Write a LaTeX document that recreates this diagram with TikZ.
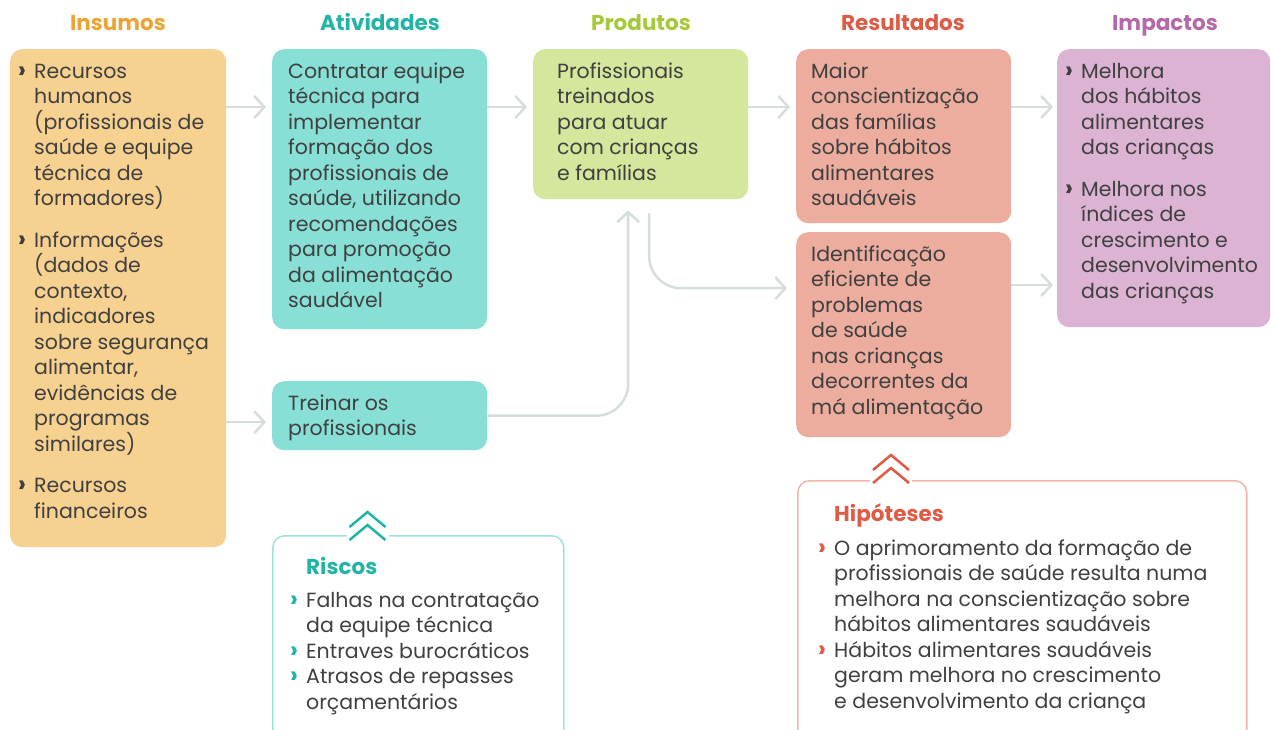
\documentclass[tikz,border=0pt]{standalone}
\usepackage{fontspec}
\setmainfont{Poppins}
\usepackage{xcolor}
\definecolor{ColTxt}{RGB}{64,64,64}
\definecolor{ColEdge}{RGB}{213,222,220}
\definecolor{ColIns}{RGB}{247,209,144}
\definecolor{ColInsH}{RGB}{234,164,56}
\definecolor{ColAtv}{RGB}{135,223,214}
\definecolor{ColAtvH}{RGB}{34,181,165}
\definecolor{ColPro}{RGB}{212,231,156}
\definecolor{ColProH}{RGB}{166,201,58}
\definecolor{ColRes}{RGB}{236,172,158}
\definecolor{ColResH}{RGB}{222,91,69}
\definecolor{ColImp}{RGB}{220,179,211}
\definecolor{ColImpH}{RGB}{182,104,167}
\definecolor{ColRis}{RGB}{160,226,219}
\definecolor{ColHip}{RGB}{243,181,168}
\usepackage{tikz}
\usetikzlibrary{arrows.meta}
\usetikzlibrary{calc}
\usetikzlibrary{positioning}
\tikzstyle{Box}=[rectangle,rounded corners=12pt,inner sep=0pt,
anchor=north west]
\tikzstyle{Txt}=[inner sep=0pt,anchor=north west,align=left,text=ColTxt,
font=\fontsize{20.5}{25.5}\selectfont]
\tikzstyle{Head}=[anchor=base,inner sep=0pt,
font=\fontsize{21.5}{24}\selectfont\bfseries]
\tikzstyle{Edge}=[draw=ColEdge,line width=2.5pt,rounded corners=32pt,
-{Straight Barb[length=10pt,width=22pt]}]
\tikzstyle{Chev}=[line width=2.5pt]
\newcommand{\Bul}[1]{\llap{\textcolor{#1}{\textbf{\scalebox{1.2}{›}}}\hspace{8pt}}}

\begin{document}
\begin{tikzpicture}[x=1pt,y=-1pt]
            \useasboundingbox(0,0)rectangle(1271,729);
            \clip(0,0)rectangle(1271,729);
            % column headings
            \node[Head,text=ColInsH](hins)at(118,30){Insumos};
            \node[Head,text=ColAtvH](hatv)at(380,30){Atividades};
            \node[Head,text=ColProH](hpro)at(641,30){Produtos};
            \node[Head,text=ColResH](hres)at(903,30){Resultados};
            \node[Head,text=ColImpH](himp)at(1165,30){Impactos};
            % boxes
            \node[Box,fill=ColIns,minimum width=216pt,minimum height=498pt]
                (ins)at(10,49){};
            \node[Box,fill=ColAtv,minimum width=215pt,minimum height=280pt]
                (atv1)at(272,49){};
            \node[Box,fill=ColAtv,minimum width=215pt,minimum height=69pt]
                (atv2)at(272,381){};
            \node[Box,fill=ColPro,minimum width=215pt,minimum height=150pt]
                (pro)at(533,49){};
            \node[Box,fill=ColRes,minimum width=215pt,minimum height=174pt]
                (res1)at(796,49){};
            \node[Box,fill=ColRes,minimum width=215pt,minimum height=205pt]
                (res2)at(796,232){};
            \node[Box,fill=ColImp,minimum width=213pt,minimum height=278pt]
                (imp)at(1057,49){};
            \node[Box,draw=ColRis,line width=1.5pt,minimum width=291pt,
                minimum height=240pt](ris)at(272,535){};
            \node[Box,draw=ColHip,line width=1.5pt,minimum width=449pt,
                minimum height=290pt](hip)at(797,480){};
            % texts
            \node[Txt](tins)at(34,60){\strut\Bul{ColTxt}Recursos\\humanos\\
                (profissionais de\\saúde e equipe\\técnica de\\formadores)\\[16pt]
                \Bul{ColTxt}Informações\\(dados de\\contexto,\\indicadores\\
                sobre segurança\\alimentar,\\evidências de\\programas\\
                similares)\\[16pt]
                \Bul{ColTxt}Recursos\\financeiros};
            \node[Txt](tatv1)at(288,60){\strut Contratar equipe\\técnica para\\
                implementar\\formação dos\\profissionais de\\saúde, utilizando\\
                recomendações\\para promoção\\da alimentação\\saudável};
            \node[Txt](tatv2)at(288,392){\strut Treinar os\\profissionais};
            \node[Txt](tpro)at(557,60){\strut Profissionais\\treinados\\
                para atuar\\com crianças\\e famílias};
            \node[Txt](tres1)at(811,60){\strut Maior\\conscientização\\
                das famílias\\sobre hábitos\\alimentares\\saudáveis};
            \node[Txt](tres2)at(811,243){\strut Identificação\\eficiente de\\
                problemas\\de saúde\\nas crianças\\decorrentes da\\
                má alimentação};
            \node[Txt](timp)at(1081,60){\strut\Bul{ColTxt}Melhora\\
                dos hábitos\\alimentares\\das crianças\\[16pt]
                \Bul{ColTxt}Melhora nos\\índices de\\crescimento e\\
                desenvolvimento\\das crianças};
            \node[Head,anchor=base west,text=ColAtvH](hris)at(306,574){Riscos};
            \node[Txt](tris)at(306,589){\strut\Bul{ColAtvH}Falhas na contratação\\
                da equipe técnica\\\Bul{ColAtvH}Entraves burocráticos\\
                \Bul{ColAtvH}Atrasos de repasses\\orçamentários};
            \node[Head,anchor=base west,text=ColResH](hhip)at(834,521){Hipóteses};
            \node[Txt](thip)at(834,537){\strut\Bul{ColResH}O aprimoramento da formação de\\
                profissionais de saúde resulta numa\\
                melhora na conscientização sobre\\
                hábitos alimentares saudáveis\\
                \Bul{ColResH}Hábitos alimentares saudáveis\\
                geram melhora no crescimento\\
                e desenvolvimento da criança};
            % connectors
            \draw[Edge,shorten >=6pt]([yshift=-58pt]ins.north east)
                --([yshift=-58pt]ins.north east-|atv1.west);
            \draw[Edge,shorten >=6pt]($(atv2.west-|ins.east)+(0,6.5)$)
                --($(atv2.west)+(0,6.5)$);
            \draw[Edge,shorten >=6pt]([yshift=-58pt]atv1.north east)
                --([yshift=-58pt]atv1.north east-|pro.west);
            \draw[Edge,shorten >=6pt]([yshift=-58pt]pro.north east)
                --([yshift=-58pt]pro.north east-|res1.west);
            \draw[Edge,shorten >=4pt]([yshift=-58pt]res1.north east)
                --([yshift=-58pt]res1.north east-|imp.west);
            \draw[Edge,shorten >=4pt]([yshift=-53pt]res2.north east)
                --([yshift=-53pt]res2.north east-|imp.west);
            \draw[Edge,shorten >=11pt](atv2.east)-|([xshift=-12.5pt]pro.south);
            \draw[Edge,shorten <=14pt,shorten >=9pt]([xshift=8.5pt]pro.south)
                |-([yshift=46.5pt]res2.west);
            % chevrons
            \begin{scope}[shift={(367.5,527)}]
                \fill[white](-21,4)rectangle(21,12);
                \draw[Chev,draw=ColAtvH](-18,0)--(0,-15)--(18,0)
                    (-18,13)--(0,-2)--(18,13);
            \end{scope}
            \begin{scope}[shift={(891,470)}]
                \fill[white](-21,4)rectangle(21,12);
                \draw[Chev,draw=ColResH](-18,0)--(0,-15)--(18,0)
                    (-18,13)--(0,-2)--(18,13);
            \end{scope}
        \end{tikzpicture}
\end{document}
